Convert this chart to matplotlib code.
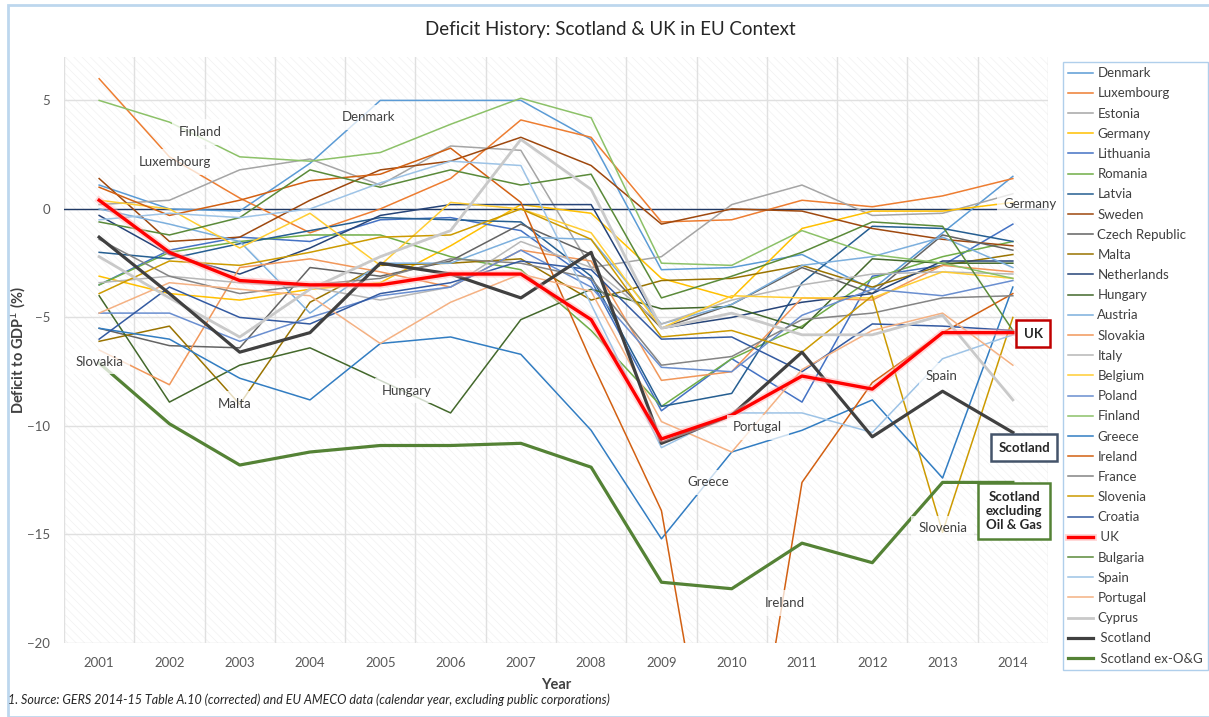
import matplotlib
matplotlib.use('Agg')
import matplotlib.pyplot as plt
import matplotlib.patheffects as pe
from matplotlib.patches import Rectangle
import numpy as np

plt.rcParams['font.family'] = ['Lato', 'DejaVu Sans']
plt.rcParams['hatch.linewidth'] = 0.5

years = list(range(2001, 2015))

# general government balance, % of GDP (negative = deficit)
denmark = [1.1, 0.0, -0.1, 2.1, 5.0, 5.0, 5.0, 3.2, -2.8, -2.7, -2.1, -3.7, -1.1, 1.5]
luxembourg = [6.0, 2.4, 0.5, -1.1, 0.0, 1.4, 4.1, 3.3, -0.6, -0.5, 0.4, 0.1, 0.6, 1.4]
estonia = [0.2, 0.4, 1.8, 2.3, 1.1, 2.9, 2.7, -2.7, -2.2, 0.2, 1.1, -0.3, -0.2, 0.7]
germany = [-3.1, -3.9, -4.2, -3.7, -3.4, -1.7, 0.2, -0.2, -3.2, -4.1, -0.9, -0.1, -0.1, 0.3]
lithuania = [-3.5, -1.9, -1.3, -1.5, -0.5, -0.4, -1.0, -3.3, -9.3, -6.9, -8.9, -3.1, -2.6, -0.7]
romania = [-3.5, -2.0, -1.5, -1.2, -1.2, -2.2, -2.8, -5.6, -9.1, -6.9, -5.4, -3.2, -2.2, -1.5]
latvia = [-2.0, -2.3, -1.6, -1.0, -0.4, -0.5, -0.6, -3.1, -9.1, -8.5, -3.4, -0.8, -0.9, -1.5]
sweden = [1.4, -1.5, -1.3, 0.4, 1.8, 2.2, 3.3, 2.0, -0.7, 0.0, -0.1, -0.9, -1.4, -1.7]
czech = [-5.5, -6.3, -6.4, -2.7, -3.1, -2.4, -0.7, -2.1, -5.5, -4.4, -2.7, -3.9, -1.2, -1.9]
malta = [-6.1, -5.4, -9.0, -4.3, -2.6, -2.5, -2.3, -4.2, -3.3, -3.2, -2.6, -3.6, -2.6, -2.1]
netherlands = [-0.3, -2.1, -3.0, -1.8, -0.3, 0.2, 0.2, 0.2, -5.5, -5.0, -4.3, -3.9, -2.4, -2.4]
hungary = [-4.0, -8.9, -7.2, -6.4, -7.9, -9.4, -5.1, -3.7, -4.6, -4.5, -5.5, -2.3, -2.5, -2.5]
austria = [0.0, -0.7, -1.5, -4.8, -2.5, -2.5, -1.3, -1.4, -5.3, -4.4, -2.6, -2.2, -1.3, -2.7]
slovakia = [-6.5, -8.1, -2.7, -2.3, -2.9, -3.6, -1.9, -2.4, -7.9, -7.5, -4.1, -4.2, -2.6, -2.9]
italy = [-3.4, -3.1, -3.4, -3.6, -4.2, -3.6, -1.5, -2.7, -5.3, -4.2, -3.5, -3.0, -2.9, -3.0]
belgium = [0.4, 0.0, -1.8, -0.2, -2.6, 0.3, 0.0, -1.1, -5.5, -4.0, -4.1, -4.1, -2.9, -3.2]
poland = [-4.8, -4.8, -6.1, -5.0, -4.0, -3.6, -1.9, -3.6, -7.3, -7.5, -4.9, -3.7, -4.0, -3.3]
finland = [5.0, 4.0, 2.4, 2.2, 2.6, 3.9, 5.1, 4.2, -2.5, -2.6, -1.0, -2.1, -2.5, -3.2]
greece = [-5.5, -6.0, -7.8, -8.8, -6.2, -5.9, -6.7, -10.2, -15.2, -11.2, -10.2, -8.8, -12.4, -3.6]
ireland = [1.0, -0.3, 0.4, 1.3, 1.6, 2.8, 0.3, -7.0, -13.9, -32.4, -12.6, -8.0, -5.7, -3.9]
france = [-1.4, -3.1, -3.9, -3.5, -3.2, -2.3, -2.5, -3.2, -7.2, -6.8, -5.1, -4.8, -4.1, -4.0]
slovenia = [-3.9, -2.4, -2.6, -2.0, -1.3, -1.2, 0.0, -1.4, -5.9, -5.6, -6.6, -4.0, -14.9, -5.0]
croatia = [-6.0, -3.6, -5.0, -5.3, -3.9, -3.4, -2.4, -2.8, -6.0, -5.9, -7.5, -5.3, -5.4, -5.6]
uk = [0.4, -2.0, -3.3, -3.5, -3.5, -3.0, -3.0, -5.1, -10.6, -9.5, -7.7, -8.3, -5.7, -5.7]
bulgaria = [-0.6, -1.2, -0.4, 1.8, 1.0, 1.8, 1.1, 1.6, -4.1, -3.1, -2.0, -0.6, -0.8, -5.6]
spain = [-0.5, -0.2, -0.4, 0.0, 1.2, 2.2, 2.0, -4.4, -11.0, -9.4, -9.4, -10.3, -6.9, -5.8]
portugal = [-4.8, -3.4, -3.7, -4.0, -6.2, -4.3, -3.0, -3.8, -9.8, -11.2, -7.4, -5.6, -4.8, -7.2]
cyprus = [-2.2, -4.1, -5.9, -3.7, -2.2, -1.0, 3.2, 0.9, -5.5, -4.8, -5.8, -5.8, -4.9, -8.8]
scotland = [-1.3, -3.9, -6.6, -5.7, -2.5, -3.0, -4.1, -2.0, -10.8, -9.5, -6.6, -10.5, -8.4, -10.3]
scotland_ex_og = [-7.1, -9.9, -11.8, -11.2, -10.9, -10.9, -10.8, -11.9, -17.2, -17.5, -15.4, -16.3, -12.6, -12.6]

series = [
    ('Denmark', denmark, '#5B9BD5', 1.1),
    ('Luxembourg', luxembourg, '#ED7D31', 1.1),
    ('Estonia', estonia, '#A5A5A5', 1.1),
    ('Germany', germany, '#FFC000', 1.1),
    ('Lithuania', lithuania, '#4472C4', 1.1),
    ('Romania', romania, '#70AD47', 1.1),
    ('Latvia', latvia, '#255E91', 1.1),
    ('Sweden', sweden, '#9E480E', 1.1),
    ('Czech Republic', czech, '#636363', 1.1),
    ('Malta', malta, '#997300', 1.1),
    ('Netherlands', netherlands, '#264478', 1.1),
    ('Hungary', hungary, '#43682B', 1.1),
    ('Austria', austria, '#7CAFDD', 1.1),
    ('Slovakia', slovakia, '#F1975A', 1.1),
    ('Italy', italy, '#B7B7B7', 1.1),
    ('Belgium', belgium, '#FFCD33', 1.1),
    ('Poland', poland, '#698ED0', 1.1),
    ('Finland', finland, '#8CC168', 1.1),
    ('Greece', greece, '#327DC2', 1.1),
    ('Ireland', ireland, '#D26012', 1.1),
    ('France', france, '#848484', 1.1),
    ('Slovenia', slovenia, '#CC9A00', 1.1),
    ('Croatia', croatia, '#335AA1', 1.1),
    (' UK', uk, '#FF0000', 2.4),
    ('Bulgaria', bulgaria, '#5A8A39', 1.1),
    ('Spain', spain, '#9DC3E6', 1.1),
    ('Portugal', portugal, '#F4B183', 1.1),
    ('Cyprus', cyprus, '#C9C9C9', 2.0),
    (' Scotland', scotland, '#404040', 2.3),
    (' Scotland ex-O&G', scotland_ex_og, '#548235', 2.3),
]

# (text, x, y) of the in-chart labels
labels = [
    ('Denmark', 2004.83, 4.23), ('Finland', 2002.44, 3.54),
    ('Luxembourg', 2002.08, 2.16), ('Slovakia', 2001.01, -7.03),
    ('Malta', 2002.93, -8.97), ('Hungary', 2005.37, -8.37),
    ('Germany', 2014.24, 0.23), ('Spain', 2012.99, -7.68),
    ('Portugal', 2010.37, -10.07), ('Greece', 2009.66, -12.6),
    ('Slovenia', 2013.0, -14.71), ('Ireland', 2010.76, -18.16),
]

fig = plt.figure(figsize=(12.09, 7.17), dpi=100)
fig.patches.append(Rectangle((8 / 1209, 0.0), 1.1, 1 - 5 / 717, transform=fig.transFigure,
                             facecolor='none', edgecolor='#BDD7EE', linewidth=2))
ax = fig.add_axes([64 / 1209, 1 - 643 / 717, (1048 - 64) / 1209, (643 - 57) / 717])

# faint diagonal pattern fill of the plot area
ax.add_patch(Rectangle((0, 0), 1, 1, transform=ax.transAxes, facecolor='white',
                       edgecolor='#f1f1f1', hatch='\\\\\\\\', linewidth=0, zorder=0))

for name, vals, col, lw in series:
    line, = ax.plot(years, vals, color=col, lw=lw, label=name, zorder=3)
    if name == ' UK':
        line.set_path_effects([pe.Stroke(linewidth=5, foreground='#ffb3b3', alpha=0.5), pe.Normal()])
        line.set_zorder(5)
    if name.startswith(' Scotland'):
        line.set_zorder(4)

ax.axhline(0, color='#1F3864', lw=1.0, zorder=2)

ax.set_xlim(2000.5, 2014.5)
ax.set_ylim(-20, 7)
ax.set_xticks(years)
ax.set_xticks(np.arange(2000.5, 2015, 1.0), minor=True)
ax.set_yticks([-20, -15, -10, -5, 0, 5])
ax.grid(which='minor', axis='x', color='#e0e0e0', lw=1.0, zorder=1)
ax.grid(which='major', axis='y', color='#e0e0e0', lw=1.0, zorder=1)
ax.set_axisbelow(True)
ax.tick_params(which='both', length=0, labelsize=9.5, labelcolor='#595959')
ax.tick_params(axis='x', pad=10)
ax.tick_params(axis='y', pad=10)
for s in ax.spines.values():
    s.set_visible(False)

ax.set_xlabel('Year', fontsize=10.5, fontweight='bold', color='#404040')
ax.xaxis.set_label_coords(0.5, -(678 - 643) / 586)
ax.set_ylabel('Deficit to GDP$^1$ (%)', fontsize=10.5, fontweight='bold', color='#404040')
ax.yaxis.set_label_coords(-(64 - 28) / 984, 0.5)
fig.text(610 / 1209, 1 - 30 / 717, 'Deficit History: Scotland & UK in EU Context',
         ha='center', va='center', fontsize=13.5, color='#262626')
fig.text(8 / 1209, 1 - 700 / 717,
         '1. Source: GERS 2014-15 Table A.10 (corrected) and EU AMECO data (calendar year, excluding public corporations)',
         ha='left', va='center', fontsize=9, style='italic', color='#262626')

for txt, x, y in labels:
    ax.text(x, y, txt, ha='center', va='center', fontsize=9.5, color='#404040', zorder=6,
            clip_on=False,
            bbox=dict(boxstyle='square,pad=0.5', facecolor='white', edgecolor='none', alpha=0.75))

ax.text(2014.29, -5.75, 'UK', ha='center', va='center', fontsize=9.5, fontweight='bold',
        color='#262626', zorder=7, clip_on=False,
        bbox=dict(boxstyle='square,pad=0.55', facecolor='white', edgecolor='#C00000', lw=1.8))
ax.text(2014.16, -11.0, 'Scotland', ha='center', va='center', fontsize=9.5, fontweight='bold',
        color='#262626', zorder=7, clip_on=False,
        bbox=dict(boxstyle='square,pad=0.55', facecolor='white', edgecolor='#44546A', lw=1.8))
ax.text(2014.02, -13.9, 'Scotland\nexcluding\nOil & Gas', ha='center', va='center', fontsize=9.5,
        fontweight='bold', color='#262626', zorder=7, clip_on=False, linespacing=1.2,
        bbox=dict(boxstyle='square,pad=0.6', facecolor='white', edgecolor='#548235', lw=1.8))

leg = ax.legend(loc='upper left', bbox_to_anchor=(1063 / 1209, 1 - 62 / 717),
                bbox_transform=fig.transFigure, fontsize=9.5, frameon=True, fancybox=False,
                handlelength=1.9, handletextpad=0.3, labelspacing=0.62, borderpad=0.4,
                borderaxespad=0)
leg.get_frame().set_edgecolor('#9DC3E6')
leg.get_frame().set_linewidth(1.0)
for t in leg.get_texts():
    t.set_color('#404040')

fig.savefig('out.png', dpi=100)
